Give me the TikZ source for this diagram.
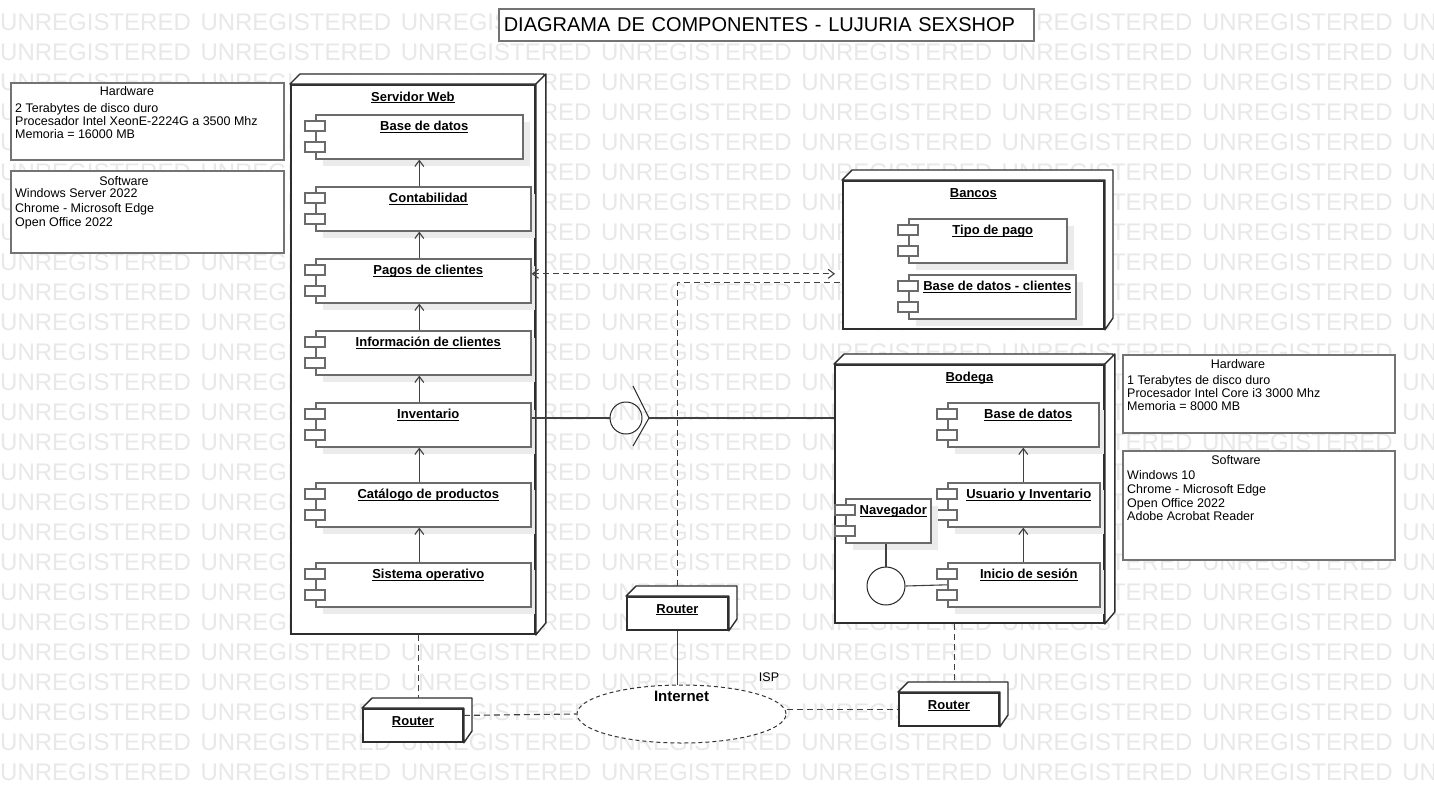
\documentclass[tikz,border=0pt]{standalone}
\usepackage{fontspec}
\setmainfont{Liberation Sans}
\usetikzlibrary{arrows.meta,calc,shapes.geometric,shadows}

\newcommand{\compo}[6]{%
  \node[compbox, minimum width=#4pt, minimum height=#5pt, anchor=north west] (#1) at (#2,#3) {};
  \node[complbl] (#1-lbl) at ($(#1.north)+(5,16.5)$) {\underline{\smash{#6}}};
  \draw[port] ($(#1.north west)+(-10,7)$) rectangle ++(20,10);
  \draw[port] ($(#1.north west)+(-10,28)$) rectangle ++(20,10);
}
\newcommand{\dnode}[6]{%
  \node[nodebox, minimum width=#4pt, minimum height=#5pt, anchor=north west] (#1) at (#2,#3) {};
  \filldraw[nodeline] (#1.north west) -- ++(10,-10) -- ++(#4,0) -- ++(0,#5) -- (#1.south east) -- (#1.north east) -- cycle;
  \node[complbl] (#1-lbl) at ($(#1.north)+(0,17)$) {\underline{\smash{#6}}};
}
\newcommand{\dedge}[2]{%
  \filldraw[nodeline] (#1.north east) -- ++(10,-10) -- ++(0,#2) -- (#1.south east) -- cycle;
}

\begin{document}
\begin{tikzpicture}[x=1pt,y=-1pt,>={Straight Barb[length=6pt,width=9pt]},
  wm/.style={text=black!9, font=\fontsize{24}{24}\selectfont, inner sep=0pt, anchor=west},
  titlebox/.style={draw=black!55, line width=1.6pt, fill=white, anchor=west, minimum height=32pt, text width=525pt, inner xsep=5pt, inner ysep=0pt, font=\fontsize{20}{20}\selectfont},
  compbox/.style={draw=black!58, line width=1.6pt, fill=white, drop shadow={shadow xshift=7pt, shadow yshift=-7pt, fill=black!8, opacity=1}},
  port/.style={draw=black!58, line width=1.3pt, fill=white},
  complbl/.style={font=\bfseries\fontsize{13}{15}\selectfont, inner sep=0pt, anchor=base},
  nodebox/.style={draw=black!82, line width=1.8pt, fill=white},
  nodeline/.style={draw=black!82, line width=1.4pt, line join=round, fill=white},
  infobox/.style={draw=black!55, line width=1.6pt, fill=white, anchor=north west},
  infotitle/.style={font=\fontsize{12.5}{12.5}\selectfont, inner sep=0pt, anchor=base},
  infoline/.style={font=\fontsize{12.5}{12.5}\selectfont, inner sep=0pt, anchor=base west},
  conn/.style={draw=black!75, line width=1.1pt},
  dline/.style={conn, dash pattern=on 6pt off 4pt}]
\useasboundingbox (0,0) rectangle (1434,785);
\fill[white] (0,0) rectangle (1434,785);
\begin{scope}
\clip (0,0) rectangle (1434,785);
\foreach \r in {0,...,25}
	\foreach \c in {0,...,7}
		\node[wm] (wm-\r-\c) at (200.3*\c,22+30*\r) {UNREGISTERED};
\end{scope}

\node[titlebox] (title) at (498,25) {DIAGRAMA DE COMPONENTES - LUJURIA SEXSHOP};

\node[infobox, minimum width=273pt, minimum height=77pt] (hw1) at (10,82) {};
\node[infotitle] (hw1-t) at (127,95.5) {Hardware};
\node[infoline] (hw1-a) at (15,112.5) {2 Terabytes de disco duro};
\node[infoline] (hw1-b) at (15,125.5) {Procesador Intel XeonE-2224G a 3500 Mhz};
\node[infoline] (hw1-c) at (15,138.5) {Memoria = 16000 MB};
\node[infobox, minimum width=273pt, minimum height=82pt] (sw1) at (10,170) {};
\node[infotitle] (sw1-t) at (124,185.5) {Software};
\node[infoline] (sw1-a) at (15,197.5) {Windows Server 2022};
\node[infoline] (sw1-b) at (15,212) {Chrome - Microsoft Edge};
\node[infoline] (sw1-c) at (15,226.5) {Open Office 2022};

\node[infobox, minimum width=272pt, minimum height=78pt] (hw2) at (1122,354) {};
\node[infotitle] (hw2-t) at (1238,368.5) {Hardware};
\node[infoline] (hw2-a) at (1127,384) {1 Terabytes de disco duro};
\node[infoline] (hw2-b) at (1127,397) {Procesador Intel Core i3 3000 Mhz};
\node[infoline] (hw2-c) at (1127,410) {Memoria = 8000 MB};
\node[infobox, minimum width=272pt, minimum height=109pt] (sw2) at (1122,450) {};
\node[infotitle] (sw2-t) at (1236,464.5) {Software};
\node[infoline] (sw2-a) at (1127,479.5) {Windows 10};
\node[infoline] (sw2-b) at (1127,493.5) {Chrome - Microsoft Edge};
\node[infoline] (sw2-c) at (1127,507) {Open Office 2022};
\node[infoline] (sw2-d) at (1127,520.5) {Adobe Acrobat Reader};

\dnode{srv}{290}{84}{244}{549}{Servidor Web}
\compo{sbd}{315}{114}{207}{44}{Base de datos}
\compo{contab}{315}{186}{215}{44}{Contabilidad}
\compo{pagos}{315}{258}{215}{44}{Pagos de clientes}
\compo{info}{315}{330}{215}{44}{Información de clientes}
\compo{inv}{315}{402}{215}{44}{Inventario}
\compo{cat}{315}{482}{215}{44}{Catálogo de productos}
\compo{sos}{315}{562}{215}{44}{Sistema operativo}
\dedge{srv}{549}
\foreach \a/\b in {contab/sbd,pagos/contab,info/pagos,inv/info,cat/inv,sos/cat}
	\draw[conn,->] (\a.north -| sbd.south) -- (\b.south -| sbd.south);

\dnode{bancos}{842}{180}{261}{148}{Bancos}
\compo{tipo}{908}{218}{158}{44}{Tipo de pago}
\compo{bdcli}{908}{274}{167}{44}{Base de datos - clientes}

\dnode{bodega}{834}{364}{269}{258}{Bodega}
\compo{bbd}{947}{402}{151}{44}{Base de datos}
\compo{busr}{947}{482}{152}{44}{Usuario y Inventario}
\compo{bini}{947}{562}{152}{44}{Inicio de sesión}
\compo{nav}{845}{498}{85}{44}{Navegador}
\dedge{bodega}{258}
\foreach \a/\b in {busr/bbd,bini/busr}
	\draw[conn,->] (\a.north -| bbd.south) -- (\b.south -| bbd.south);
\node[draw=black!85, line width=1pt, circle, minimum size=38pt, inner sep=0pt, fill=white] (lolli) at (886,586) {};
\draw[conn] (nav.south -| lolli.north) -- (lolli.north);
\draw[conn] (lolli.east) -- (bini.west);

\dnode{rmid}{626}{596}{101}{33}{Router}
\dnode{rleft}{362}{708}{100}{33}{Router}
\dnode{rright}{898}{692}{100}{33}{Router}

\node[ellipse, draw=black!80, line width=1pt, dash pattern=on 4pt off 3pt, fill=white, minimum width=209pt, minimum height=58pt, inner sep=0pt] (inet) at (681.5,714) {};
\node[complbl, font=\bfseries\fontsize{15}{15}\selectfont] (inet-lbl) at ($(inet.center)+(0,-12.5)$) {Internet};
\node[infotitle] (isp) at ($(inet.center)+(87.5,-32.5)$) {ISP};

\draw[dline,<->,shorten >=7pt] ([yshift=7pt]pagos.east) -- ([yshift=7pt]pagos.east -| bancos.west);
\draw[dline] ([yshift=10pt]rmid.north) |- ([yshift=-28pt]bancos.west);

\node[draw=black!85, line width=1pt, circle, minimum size=32pt, inner sep=0pt] (iface) at (626,418) {};
\coordinate (sock) at ($(iface.center)+(23,0)$);
\draw[conn] (iface.west -| inv.east) -- (iface.west);
\draw[conn, draw=black!85, line width=1pt] ($(iface.center)+(7,-32)$) -- (sock) -- ($(iface.center)+(7,28)$);
\draw[conn] (sock) -- (sock -| bodega.west);

\draw[conn] (rmid.south) -- (rmid.south |- inet.north);
\coordinate (rltop) at ($(rleft.north)+(6,-10)$);
\draw[dline] (rltop |- srv.south) -- (rltop);
\draw[dline] ([yshift=10pt]rleft.east) -- (inet.west);
\draw[dline] (rright.west -| inet.east) -- (rright.west);
\coordinate (rrtop) at ($(rright.north)+(6,-10)$);
\draw[dline] (rrtop |- bodega.south) -- (rrtop);
\end{tikzpicture}
\end{document}
